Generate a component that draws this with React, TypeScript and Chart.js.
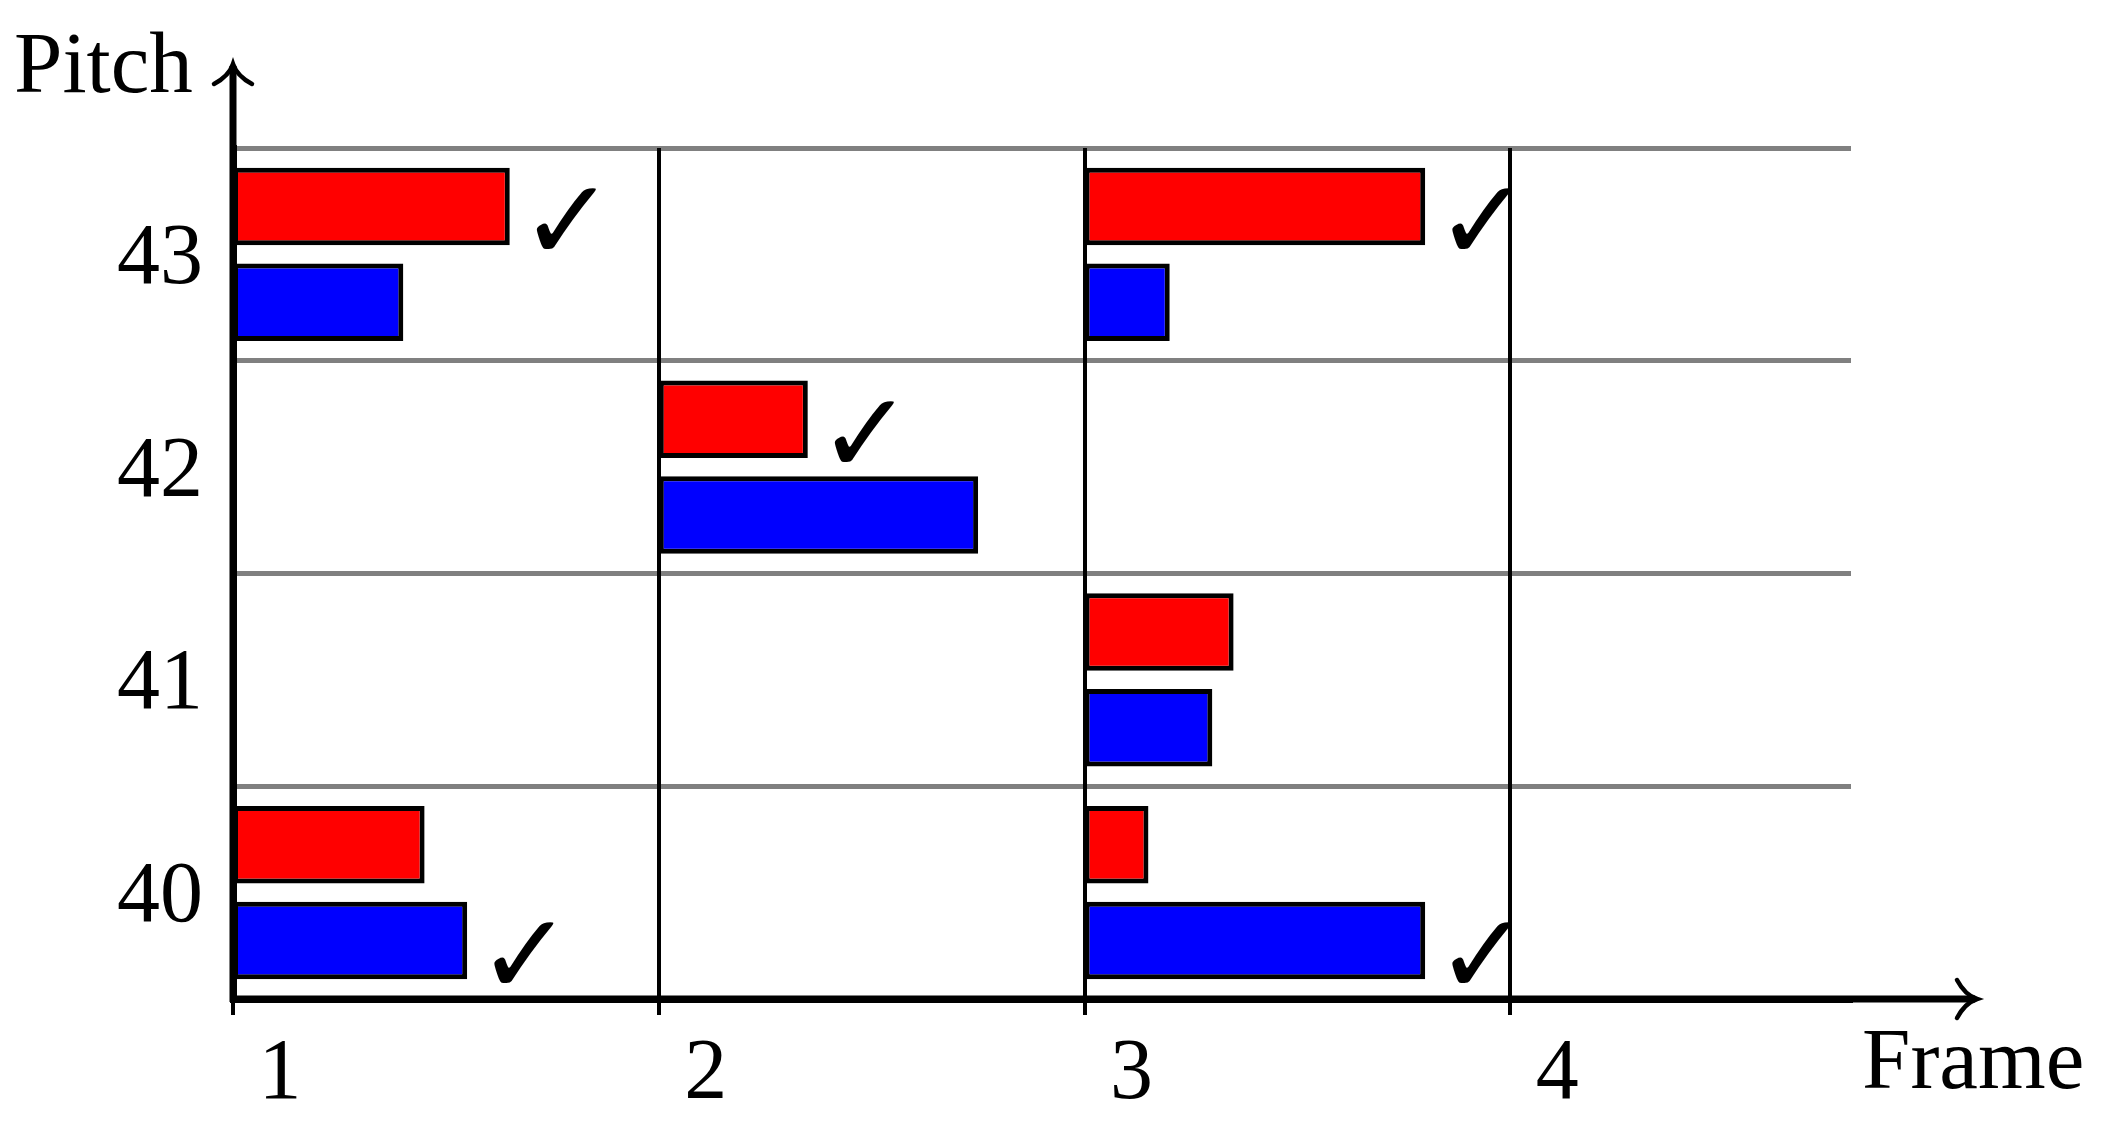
import React, { useEffect, useRef } from "react";
import { Chart, registerables } from "chart.js";

Chart.register(...registerables);

// ---- data ----
const pitchLabels = ["43", "42", "41", "40"];
const frameTicks = [1, 2, 3, 4];
const frameMax = 4.8;
const barPitch = [43, 42, 43, 41, 40, 40];
const barFrame = [1, 2, 3, 3, 1, 3];
const redLength = [0.65, 0.35, 0.8, 0.35, 0.45, 0.15];
const blueLength = [0.4, 0.75, 0.2, 0.3, 0.55, 0.8];
const redChecked = [true, true, true, false, false, false];
const blueChecked = [false, false, false, false, true, true];
const xTitle = "Frame";
const yTitle = "Pitch";
const checkMark = "✓";

const SERIF = '"Liberation Serif", "DejaVu Serif", serif';

const W = 2110;
const H = 1124;

function buildData(lengths: number[]) {
  return barPitch.map((p, i) => ({
    y: String(p),
    x: [barFrame[i], barFrame[i] + lengths[i]],
  }));
}

const extrasPlugin = {
  id: "extras",
  afterDatasetsDraw(chart: any) {
    const ctx = chart.ctx;
    const checks = [redChecked, blueChecked];
    ctx.save();
    ctx.fillStyle = "#000";
    ctx.font = '114px "DejaVu Sans"';
    ctx.textAlign = "left";
    ctx.textBaseline = "alphabetic";
    checks.forEach((flags, di) => {
      const meta = chart.getDatasetMeta(di);
      meta.data.forEach((el: any, i: number) => {
        if (!flags[i]) return;
        const right = Math.max(el.x, el.base);
        const bottom = el.y + el.height / 2;
        ctx.fillText(checkMark, right + 10, bottom + 15);
      });
    });
    ctx.restore();
  },
  afterDraw(chart: any) {
    const ctx = chart.ctx;
    const a = chart.chartArea;
    ctx.save();
    ctx.strokeStyle = "#000";
    ctx.lineCap = "butt";
    // x axis + arrow
    const tipX = a.right + 126;
    const y0 = a.bottom;
    ctx.lineWidth = 7;
    ctx.beginPath();
    ctx.moveTo(a.left - 3, y0);
    ctx.lineTo(tipX - 2, y0);
    ctx.stroke();
    ctx.lineWidth = 4.5;
    ctx.lineCap = "round";
    ctx.beginPath();
    ctx.moveTo(tipX - 20, y0 - 19);
    ctx.quadraticCurveTo(tipX - 12, y0 - 4, tipX, y0);
    ctx.quadraticCurveTo(tipX - 12, y0 + 4, tipX - 20, y0 + 19);
    ctx.stroke();
    // y axis + arrow
    const x0 = a.left;
    const tipY = a.top - 84;
    ctx.lineCap = "butt";
    ctx.lineWidth = 7;
    ctx.beginPath();
    ctx.moveTo(x0, a.bottom + 3);
    ctx.lineTo(x0, tipY + 2);
    ctx.stroke();
    ctx.lineWidth = 4.5;
    ctx.lineCap = "round";
    ctx.beginPath();
    ctx.moveTo(x0 - 19, tipY + 20);
    ctx.quadraticCurveTo(x0 - 4, tipY + 12, x0, tipY);
    ctx.quadraticCurveTo(x0 + 4, tipY + 12, x0 + 19, tipY + 20);
    ctx.stroke();
    // titles
    ctx.fillStyle = "#000";
    ctx.font = "87px " + SERIF;
    ctx.textAlign = "left";
    ctx.textBaseline = "alphabetic";
    ctx.fillText(yTitle, 14, 92);
    ctx.fillText(xTitle, 1862, 1088);
    ctx.restore();
  },
};

export default function App() {
  const ref = useRef<HTMLCanvasElement | null>(null);
  useEffect(() => {
    if (!ref.current) return;
    const chart = new Chart(ref.current, {
      type: "bar",
      data: {
        labels: pitchLabels,
        datasets: [
          {
            label: "red",
            data: buildData(redLength) as any,
            backgroundColor: "#ff0000",
            borderColor: "#000000",
            borderWidth: 5,
            borderSkipped: false,
            categoryPercentage: 0.9,
            barPercentage: 0.81,
          },
          {
            label: "blue",
            data: buildData(blueLength) as any,
            backgroundColor: "#0000ff",
            borderColor: "#000000",
            borderWidth: 5,
            borderSkipped: false,
            categoryPercentage: 0.9,
            barPercentage: 0.81,
          },
        ],
      },
      options: {
        indexAxis: "y",
        animation: false,
        responsive: true,
        maintainAspectRatio: false,
        layout: { padding: { top: 148, right: 259, left: 0, bottom: 0 } },
        plugins: {
          legend: { display: false },
          tooltip: { enabled: false },
        },
        scales: {
          y: {
            type: "category",
            labels: pitchLabels,
            offset: true,
            grid: {
              offset: true,
              color: "#808080",
              lineWidth: 5,
              drawTicks: false,
            },
            border: { display: true, color: "#000", width: 7 },
            ticks: {
              color: "#000",
              font: { family: SERIF, size: 86 },
              padding: 30,
              labelOffset: 6,
            },
            afterFit: (s: any) => {
              s.width = 233;
            },
          },
          x: {
            type: "linear",
            min: frameTicks[0],
            max: frameMax,
            grid: {
              color: "#000",
              lineWidth: 4,
              tickLength: 16,
              tickWidth: 4,
              tickColor: "#000",
            },
            border: { display: true, color: "#000", width: 7 },
            afterBuildTicks: (s: any) => {
              s.ticks = frameTicks.map((v) => ({ value: v }));
            },
            ticks: {
              color: "#000",
              font: { family: SERIF, size: 86 },
              padding: 9,
              labelOffset: 47,
              maxRotation: 0,
              autoSkip: false,
              callback: (v: any) => String(v),
            },
            afterFit: (s: any) => {
              s.height = 125;
            },
          },
        },
      },
      plugins: [extrasPlugin],
    });
    return () => chart.destroy();
  }, []);
  return (
    <div style={{ position: "absolute", left: 0, top: 0, width: W, height: H, background: "#fff" }}>
      <canvas ref={ref} />
    </div>
  );
}
